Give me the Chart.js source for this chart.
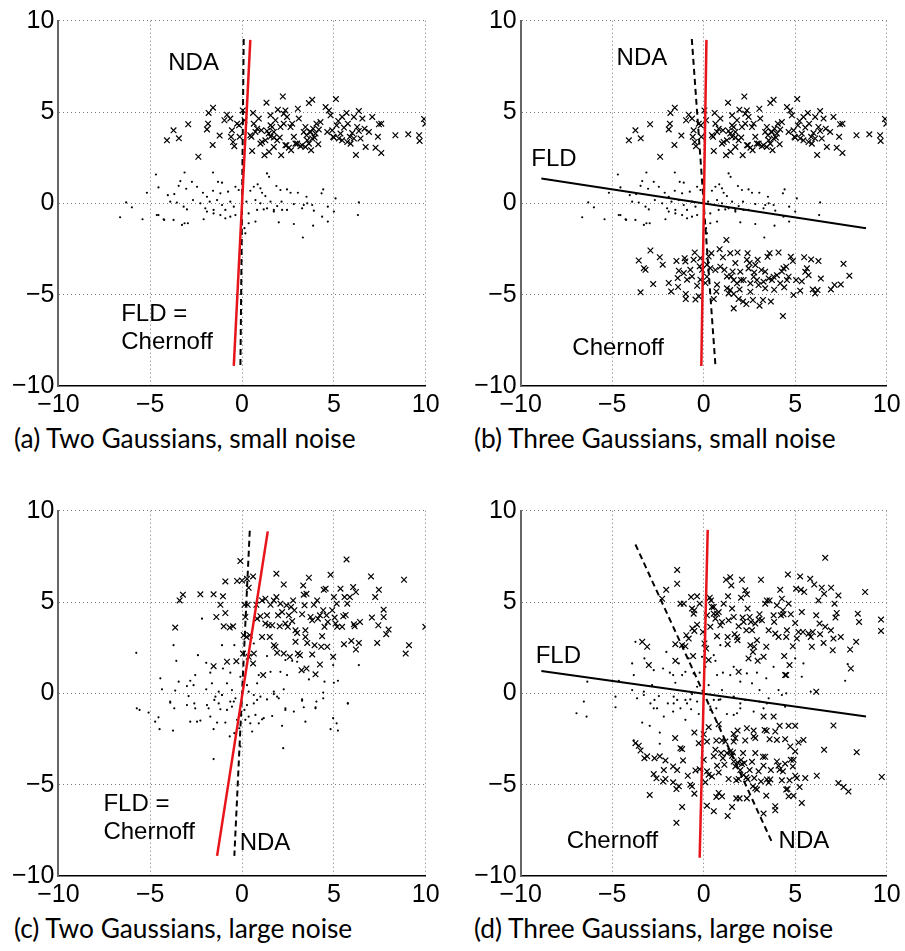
<!DOCTYPE html>
<html>
<head>
<meta charset="utf-8">
<script src="https://cdn.jsdelivr.net/npm/chart.js@4.4.1/dist/chart.umd.min.js"></script>
<style>
  body { margin: 0; background: #fff; }
  #wrap { position: relative; width: 905px; height: 951px; background: #fff; }
  #wrap canvas { position: absolute; }
  .cap { position: absolute; font-family: Lato, sans-serif; font-size: 26.3px; line-height: 30px; color: #000; white-space: nowrap; }
</style>
</head>
<body>
<div id="wrap">
  <canvas id="pa" width="455" height="420" style="left:0;top:0"></canvas>
  <canvas id="pb" width="445" height="420" style="left:460px;top:0"></canvas>
  <canvas id="pc" width="455" height="420" style="left:0;top:490px"></canvas>
  <canvas id="pd" width="445" height="420" style="left:460px;top:490px"></canvas>
  <div class="cap" style="left:14px;top:423px">(a) Two Gaussians, small noise</div>
  <div class="cap" style="left:474px;top:423px">(b) Three Gaussians, small noise</div>
  <div class="cap" style="left:14px;top:913px">(c) Two Gaussians, large noise</div>
  <div class="cap" style="left:474px;top:913px">(d) Three Gaussians, large noise</div>
</div>
<script>
// axis ticks
const tickValues = [-10, -5, 0, 5, 10];
const tickLabels = ['−10', '−5', '0', '5', '10'];

// small noise: upper cluster (x), middle cluster (dots) -- shared by (a) and (b)
const upperSmall = [
  [-4.09,3.45],[-3.73,4.0],[-3.44,3.56],[-2.93,4.33],[-2.38,2.55],[-1.91,4.05],[-1.85,4.36],[-1.82,4.95],[-1.58,5.24],[-1.6,3.2],
  [-1.22,3.71],[-0.96,4.55],[-0.82,4.85],[-0.64,4.64],[-0.55,4.0],[-0.6,3.64],[-0.49,3.36],[-0.42,3.13],[-0.27,4.36],[-0.16,4.27],
  [-0.13,3.64],[0.04,5.09],[0.13,4.55],[0.45,3.73],[0.51,3.64],[0.55,2.87],[0.6,4.95],[0.64,4.36],[0.91,4.64],[1.05,4.0],
  [1.09,3.36],[1.22,2.64],[1.33,5.51],[1.36,3.96],[1.45,3.82],[1.47,2.82],[1.55,4.82],[1.64,4.18],[1.73,3.6],[1.82,4.55],
  [1.95,5.13],[2.05,3.6],[2.13,2.64],[2.22,5.85],[2.27,4.91],[2.36,5.09],[2.42,3.18],[2.45,4.73],[2.55,3.05],[2.64,4.18],
  [2.67,2.91],[2.73,4.36],[2.82,3.64],[2.91,3.27],[3.04,5.18],[3.09,4.64],[3.27,3.18],[3.36,3.91],[3.45,4.18],[3.55,3.45],
  [3.64,5.49],[3.73,3.91],[3.76,2.91],[3.82,5.67],[3.87,4.09],[3.95,3.6],[4.05,4.36],[4.15,3.24],[4.27,4.45],[4.55,5.27],
  [4.64,3.91],[4.73,5.09],[4.82,4.82],[4.91,4.0],[4.96,3.64],[5.11,5.71],[5.15,4.27],[5.24,4.51],[5.36,3.82],[5.45,4.73],
  [5.55,4.15],[5.69,4.95],[5.76,4.36],[5.87,3.64],[6.0,3.85],[6.09,4.73],[6.2,2.65],[6.27,4.18],[6.36,5.05],[6.45,3.55],
  [6.55,4.64],[6.67,4.09],[6.73,3.09],[6.91,3.91],[7.09,4.73],[7.27,3.05],[7.4,3.64],[7.45,4.33],[7.58,2.76],[7.58,4.36],
  [8.35,3.73],[9.05,3.78],[9.64,3.73],[9.67,3.42],[9.91,4.62],[9.98,4.36],
  [1.73,3.09],[1.91,3.45],[2.36,3.18],[3.0,3.27],[3.18,3.13],[3.45,3.09],[3.64,3.27],[3.82,3.55],[4.0,3.82],[4.18,4.04],
  [3.69,3.91],[3.51,3.73],[1.55,3.64],[1.27,3.45],[1.0,3.27],[0.82,4.09],[0.73,3.91],[5.0,3.6],[5.27,3.55],[5.45,3.45],
  [5.73,3.36],[5.91,3.27],[6.09,3.55],[6.36,3.96],[2.09,4.18],[2.27,4.36],[1.73,3.91],[1.55,4.27]
];
const midSmall = [
  [-4.69,1.58],[-3.13,1.69],[-1.58,1.69],[1.36,1.64],[1.47,1.45],[-3.36,1.22],[-2.73,1.18],[-1.31,1.18],[-1.09,1.13],[-4.55,0.87],
  [-3.45,0.96],[-3.04,0.8],[-2.45,0.91],[-5.18,0.58],[-4.04,0.45],[-3.69,0.51],[-2.13,0.58],[-1.91,0.36],[-1.58,0.69],[-1.18,0.55],
  [-0.76,0.64],[-0.36,0.91],[-0.18,0.73],[0.45,0.69],[0.64,0.91],[0.85,1.04],[1.0,0.82],[1.09,0.58],[1.27,0.4],[1.87,0.95],
  [2.09,0.73],[2.45,0.76],[2.64,0.58],[3.04,0.58],[3.51,0.36],[4.42,0.76],[4.33,0.55],[5.09,0.27],[-6.31,0.05],[-6.0,-0.22],
  [-6.64,-0.76],[-5.42,-0.87],[-4.64,-0.64],[-4.27,-0.87],[-3.91,0.09],[-3.55,0.04],[-3.18,-0.18],[-3.0,-0.33],[-2.67,0.18],[-2.27,0.0],
  [-2.0,-0.27],[-1.76,0.09],[-1.55,-0.36],[-1.36,0.18],[-1.09,-0.09],[-0.91,-0.36],[-0.64,0.09],[-0.45,-0.18],[0.24,0.09],[0.36,-0.55],
  [0.73,0.18],[1.0,0.0],[1.18,-0.33],[1.55,0.09],[1.73,-0.36],[1.91,-0.15],[2.15,0.09],[2.45,-0.36],[2.82,-0.04],[3.27,-0.27],
  [3.55,0.0],[3.91,-0.4],[4.67,-0.18],[5.0,-0.45],[6.36,0.05],[6.31,-0.64],[-4.55,-0.64],[-4.24,-0.91],[-3.73,-0.91],[-3.27,-1.18],
  [-3.13,-1.09],[-2.95,-1.09],[-2.09,-0.87],[-1.18,-0.64],[-0.91,-0.82],[-0.64,-0.73],[-0.36,-0.64],[0.13,-1.36],[0.18,-1.64],[0.36,-1.09],
  [0.73,-1.0],[2.0,-1.04],[2.82,-1.13],[3.31,-1.87],[3.87,-1.22],[4.36,-0.73],[4.67,-1.0],[-1.91,-0.45],[-1.55,-0.55],[0.82,-0.36],
  [1.36,-0.27],[1.73,-0.45],[2.18,-0.36],[3.36,-0.09],[3.82,-0.09]
];
// (b) lower cluster (x)
const lowerSmall = [
  [-3.55,-3.13],[-3.27,-3.55],[-3.18,-3.64],[-3.45,-4.87],[-2.91,-2.58],[-2.76,-4.42],[-2.4,-2.95],[-2.24,-3.36],[-1.91,-4.36],[-1.78,-4.82],
  [-1.49,-3.15],[-1.42,-4.09],[-1.36,-3.69],[-1.4,-4.58],[-1.09,-3.82],[-1.04,-3.0],[-1.0,-3.18],[-0.98,-4.96],[-0.98,-5.24],[-0.91,-4.18],
  [-0.73,-3.64],[-0.64,-4.0],[-0.55,-3.09],[-0.49,-2.69],[-0.45,-5.27],[-0.36,-4.51],[-0.27,-5.09],[-0.22,-3.45],[-0.18,-4.18],[-0.09,-3.64],
  [0.09,-4.36],[0.18,-3.36],[0.27,-2.91],[0.36,-3.55],[0.42,-2.73],[0.55,-5.24],[0.69,-4.82],[0.73,-4.45],[0.87,-2.51],[1.05,-2.95],
  [1.13,-3.64],[1.24,-2.0],[1.27,-4.65],[1.36,-4.93],[1.45,-2.73],[1.49,-4.0],[1.58,-3.73],[1.64,-5.75],[1.73,-3.27],[1.85,-2.69],
  [1.91,-5.24],[1.96,-4.71],[2.04,-4.2],[2.15,-5.38],[2.33,-5.51],[2.36,-3.09],[2.4,-2.73],[2.51,-3.27],[2.55,-4.84],[2.69,-5.29],
  [2.76,-3.78],[2.95,-3.09],[3.0,-4.47],[3.05,-5.6],[3.15,-3.65],[3.24,-5.29],[3.36,-4.65],[3.49,-2.93],[3.6,-2.73],[3.67,-5.38],
  [3.73,-4.2],[3.85,-4.73],[4.0,-3.93],[4.09,-2.69],[4.18,-4.38],[4.27,-3.73],[4.33,-6.17],[4.4,-4.6],[4.51,-3.47],[4.64,-4.02],
  [4.76,-2.93],[4.87,-3.16],[4.91,-5.02],[5.05,-4.2],[5.27,-4.78],[5.36,-4.27],[5.49,-2.95],[5.55,-3.75],[5.64,-3.56],[5.73,-3.93],
  [5.87,-3.07],[5.96,-4.71],[6.09,-4.93],[6.22,-4.75],[6.27,-3.16],[6.4,-4.12],[6.95,-4.71],[7.15,-4.47],[7.49,-4.44],[7.64,-3.31],
  [7.96,-3.96],[0.91,-3.47],[1.27,-4.0],[1.64,-4.2],[1.82,-4.38],[2.18,-4.2],[2.45,-3.56],[2.73,-4.02],[2.91,-4.2],[3.27,-4.29],
  [3.55,-4.11],[3.82,-4.02],[2.55,-4.38],[1.45,-4.75],[1.64,-4.96],[2.0,-3.74],[2.82,-3.38],[3.36,-3.74],[4.36,-3.56],[4.55,-4.2],
  [0.18,-4.02],[0.64,-3.65],[-0.18,-3.0]
];

// (c) large noise, two gaussians
const upperLargeC = [
  [-0.09,7.24],[-3.22,5.4],[-3.4,5.09],[-3.64,3.6],[-2.27,5.42],[-1.55,5.42],[-1.04,5.31],[-1.18,4.85],[-1.4,4.18],[-0.91,4.4],
  [-1.0,3.67],[-0.67,3.6],[-0.49,3.67],[-0.91,6.13],[-0.27,6.15],[0.0,6.18],[0.27,6.27],[0.6,6.4],[0.36,5.78],[0.13,4.85],
  [0.31,4.85],[0.18,4.18],[0.09,3.18],[0.24,3.09],[0.42,3.18],[0.05,2.18],[0.36,2.0],[0.64,2.18],[0.6,1.64],[-1.55,1.49],
  [-0.82,1.73],[-0.31,1.76],[1.15,1.0],[0.78,4.85],[1.09,5.09],[1.27,5.18],[1.55,4.85],[1.73,5.09],[1.87,5.27],[2.09,4.91],
  [2.27,5.96],[1.87,6.55],[0.82,4.09],[1.0,4.22],[1.09,3.09],[1.27,3.82],[1.36,4.27],[1.45,3.73],[1.51,3.09],[1.64,3.73],
  [1.73,2.64],[1.82,2.55],[1.91,2.22],[1.96,4.27],[2.05,3.67],[2.18,4.45],[2.27,2.18],[2.36,3.82],[2.42,4.82],[2.49,3.64],
  [2.55,4.27],[2.6,2.0],[2.67,4.73],[2.73,3.95],[2.78,5.09],[2.85,4.55],[2.91,3.45],[2.91,2.82],[3.0,3.31],[3.04,2.18],
  [3.15,2.09],[3.24,1.27],[3.27,4.33],[3.33,5.91],[3.36,5.4],[3.4,4.82],[3.45,3.45],[3.45,3.09],[3.51,5.45],[3.51,1.36],
  [3.55,2.76],[3.64,6.33],[3.73,4.18],[3.82,4.0],[3.82,2.13],[3.91,4.85],[3.95,2.64],[4.0,1.04],[4.09,5.09],[4.13,4.09],
  [4.24,4.27],[4.24,1.58],[4.31,2.55],[4.36,3.13],[4.42,4.55],[4.45,5.67],[4.49,3.64],[4.55,5.73],[4.6,4.27],[4.64,2.55],
  [4.67,3.91],[4.82,6.49],[4.91,4.55],[4.96,2.0],[5.0,5.27],[5.04,4.15],[5.09,3.82],[5.15,4.91],[5.18,3.64],[5.36,5.73],
  [5.45,3.64],[5.51,4.22],[5.55,2.69],[5.58,5.27],[5.64,4.29],[5.73,4.91],[5.87,5.27],[5.95,2.87],[6.05,5.82],[6.09,3.78],
  [6.13,3.67],[6.2,2.4],[6.2,5.55],[6.36,2.76],[6.42,3.91],[7.02,6.4],[7.07,4.15],[7.25,5.27],[7.36,2.76],[7.42,3.73],
  [7.45,5.67],[7.71,4.58],[7.71,4.18],[7.85,3.24],[7.98,3.49],[8.82,6.22],[8.91,2.18],[9.09,2.64],[9.98,3.64],[5.69,7.33]
];
const midLargeC = [
  [-5.76,2.22],[-3.73,2.64],[-3.58,1.78],[-2.18,4.09],[-2.4,2.09],[-1.95,1.67],[-1.73,1.13],[-1.09,2.64],[-1.04,1.36],[-0.64,1.13],
  [-0.42,2.64],[0.64,2.73],[0.91,1.0],[1.36,2.04],[1.55,1.18],[2.09,1.18],[2.36,1.82],[2.45,1.0],[2.73,1.78],[3.0,1.73],
  [3.64,0.76],[4.49,0.64],[4.96,1.55],[5.0,0.58],[5.22,0.69],[6.36,1.55],[-4.45,0.82],[-4.36,0.22],[-3.64,0.15],[-3.45,0.64],
  [-3.0,0.4],[-2.82,0.69],[-2.64,0.45],[-2.55,1.0],[-1.95,0.22],[-1.64,0.55],[-1.45,-0.18],[-1.27,0.09],[-1.09,-0.09],[-0.82,0.55],
  [-0.55,0.18],[-0.45,-0.45],[-0.09,0.91],[0.27,0.45],[0.36,0.09],[0.64,-0.09],[0.82,0.55],[1.0,-0.18],[1.36,-0.33],[1.73,0.09],
  [2.0,-0.27],[2.27,0.22],[2.36,-0.82],[3.27,-0.4],[4.0,-0.82],[4.42,0.04],[5.76,-0.55],[-5.73,-0.82],[-3.91,-0.45],
  [-5.58,-0.91],[-5.09,-1.05],[-4.73,-1.55],[-4.55,-1.31],[-4.49,-1.96],[-3.91,-0.51],[-3.76,-2.04],[-3.69,-0.82],[-3.0,-0.64],[-2.91,-0.15],
  [-2.82,-1.55],[-2.6,-0.55],[-2.55,-0.82],[-2.45,-1.55],[-2.27,-1.49],[-1.91,-0.64],[-1.82,-0.82],[-1.73,-1.27],[-1.55,-1.96],[-1.55,-3.6],
  [-1.51,-0.36],[-1.36,-1.6],[-1.27,-0.55],[-1.18,-0.87],[-1.09,-0.09],[-0.91,-1.6],[-0.82,-0.91],[-0.67,-2.36],[-0.64,-0.45],[-0.55,-0.73],
  [-0.42,-2.18],[-0.36,-0.27],[-0.27,-1.45],[-0.15,-1.91],[-0.09,-2.91],[0.13,-0.91],[0.18,-1.45],[0.27,-0.64],[0.36,-1.27],[0.45,-1.64],
  [0.55,-2.09],[0.64,-0.55],[0.73,-1.18],[0.82,-0.36],[0.91,-1.64],[1.09,-1.42],[1.18,-1.36],[1.64,-1.24],[1.73,-0.04],[1.91,-0.18],
  [2.18,-1.78],[2.24,-3.0],[2.36,-0.91],[2.82,-1.0],[3.27,-0.33],[3.36,-0.76],[3.45,-1.55],[4.0,-0.76],[4.05,-0.45],[4.42,-0.27],
  [4.82,-1.96],[4.96,-1.36],[5.15,-1.64],[5.22,-2.04],[5.76,-0.55]
];

// (d) large noise, three gaussians
const upperLargeD = [
  [6.64,7.42],[-1.45,6.76],[-1.45,6.0],[-2.05,5.67],[-2.27,5.18],[-1.27,4.91],[-1.09,4.91],[-0.69,5.27],[-0.36,5.31],[-0.64,4.64],
  [-0.51,4.55],[-0.55,4.36],[-0.22,4.91],[-0.62,3.55],[-0.36,3.76],[-0.51,3.42],[-0.95,3.18],[-0.82,3.0],[-1.18,2.64],[-1.0,2.58],
  [-1.55,2.69],[-3.36,2.82],[-3.09,2.55],[-3.0,1.55],[-1.55,1.78],[-0.58,2.04],[-0.04,3.36],[0.04,2.73],[0.13,2.45],[0.27,1.82],
  [0.33,5.24],[0.4,5.09],[0.45,4.73],[0.55,4.73],[0.18,4.27],[0.55,4.36],[0.64,4.09],[0.36,3.64],[0.73,4.36],[0.82,4.45],
  [0.73,3.13],[0.91,3.73],[1.0,3.91],[1.09,4.91],[1.22,6.22],[1.33,5.31],[1.36,4.0],[1.31,3.09],[1.31,2.69],[1.45,6.36],
  [1.51,5.91],[1.55,4.64],[1.64,4.18],[1.69,3.24],[1.82,3.09],[1.85,2.91],[1.91,3.67],[2.04,5.24],[2.09,6.22],[2.13,4.15],
  [2.18,3.91],[2.27,5.64],[2.33,3.45],[2.36,5.42],[2.4,4.64],[2.45,1.91],[2.51,4.18],[2.55,2.64],[2.58,3.91],[2.64,3.45],
  [2.69,2.27],[2.76,2.55],[2.82,3.82],[2.91,2.91],[2.95,1.78],[3.0,4.04],[3.05,4.33],[3.13,6.22],[3.18,4.0],[3.27,2.0],
  [3.36,4.91],[3.42,2.55],[3.45,5.09],[3.55,3.45],[3.6,5.09],[3.82,4.27],[3.85,3.91],[3.91,3.27],[4.0,4.82],[4.09,3.09],
  [4.18,5.67],[4.22,4.27],[4.27,5.18],[4.33,4.55],[4.36,4.33],[4.4,2.04],[4.45,1.0],[4.51,3.09],[4.55,3.45],[4.6,6.51],
  [4.64,4.91],[4.69,1.55],[4.76,4.33],[4.87,2.58],[5.0,3.85],[5.05,5.73],[5.09,3.0],[5.18,3.36],[5.27,6.4],[5.31,5.67],
  [5.36,4.45],[5.42,3.36],[5.49,5.55],[5.73,3.27],[5.82,6.27],[5.85,3.09],[5.91,2.55],[5.96,3.36],[6.04,5.96],[6.15,4.27],
  [6.27,5.09],[6.33,3.82],[6.36,3.24],[6.45,5.78],[6.55,2.76],[6.58,5.45],[6.64,3.64],[6.95,3.45],[6.96,5.78],[7.05,2.36],
  [7.09,3.0],[7.15,4.91],[7.2,4.15],[7.27,4.4],[7.36,5.36],[7.49,3.09],[8.0,2.4],[8.04,1.36],[8.33,2.82],[8.42,4.36],
  [8.49,3.91],[8.82,5.55],[9.69,4.04],[9.69,3.42],[1.91,1.18],[4.51,1.0],[6.15,0.09]
];
const midLargeD = [
  [-3.73,2.82],[-3.24,1.91],[-3.91,1.64],[-3.82,1.0],[-6.36,0.64],[-4.64,0.69],[-3.91,0.18],[-3.27,0.09],[-2.82,0.45],[-2.73,1.27],
  [-2.45,-0.15],[-2.22,1.36],[-2.04,2.27],[-1.85,1.13],[-1.67,1.0],[-1.55,0.58],[-1.36,1.64],[-1.18,1.0],[-1.0,1.18],[-0.82,1.91],
  [-0.55,1.09],[-0.36,0.36],[-0.22,1.13],[-0.09,2.0],[0.09,1.45],[0.27,0.45],[0.55,2.09],[0.64,1.78],[0.73,1.0],[0.91,2.64],
  [1.0,0.18],[1.05,1.13],[1.45,1.0],[1.64,1.45],[2.0,0.64],[2.36,1.09],[2.64,0.55],[2.91,1.13],[3.05,0.18],[3.42,0.82],
  [3.82,1.45],[4.09,0.18],[4.51,0.0],[5.0,1.91],[5.36,0.91],[5.45,1.64],[5.85,0.09],[7.73,0.69],[7.87,1.6],[-4.82,-0.18],
  [-6.55,-0.45],[-3.64,-0.27],[-2.91,-0.55],[-2.55,-0.82],[-1.64,-0.55],[-1.0,-0.36],[-0.64,-0.04],[-0.36,-0.45],[0.36,-0.73],[0.82,-0.36],
  [1.64,-0.18],[2.0,-0.82],[3.27,-0.82],[-6.95,-1.09],[-6.4,-1.27],[-4.82,-0.76],[-3.36,-1.6],[-2.95,-1.78],[-3.82,-2.58],[-2.73,-0.82],
  [-2.69,-0.36],[-2.4,-2.15],[-2.4,-2.76],[-2.18,-1.27],[-1.96,-0.55],[-1.67,-1.0],[-1.64,-0.18],[-1.45,-0.36],[-1.27,-0.82],[-1.0,-1.45],
  [-0.91,-0.55],[-0.73,-0.33],[-0.69,-0.87],[-0.27,-1.13],[0.36,-0.91],[0.55,-0.36],[0.69,-0.82],[1.27,-1.13],[1.64,-1.18],[1.82,-1.09],
  [2.0,-0.55],[2.27,-0.36],[2.73,-1.0],[3.05,-0.45],[3.45,-0.55],[4.27,-0.09],[4.45,-0.73],[3.55,-0.27],[-3.27,-0.09],[0.91,-0.33]
];
const lowerLargeD = [
  [7.09,-1.76],[3.27,-1.27],[3.82,-1.27],[4.64,-1.78],[5.0,-1.78],[4.15,-1.78],[2.36,-1.91],[2.73,-2.04],[-0.51,-2.15],[0.0,-2.24],
  [0.27,-1.85],[0.82,-1.69],[1.64,-2.22],[1.85,-2.04],[3.33,-2.0],[3.44,-2.05],[3.91,-2.09],[-1.56,-2.45],[-0.27,-2.73],[0.18,-2.64],
  [0.69,-2.58],[1.0,-2.58],[1.18,-2.64],[1.64,-2.64],[1.73,-2.45],[2.27,-2.58],[2.73,-2.36],[2.82,-2.45],[3.6,-2.51],[4.0,-2.55],
  [4.45,-2.51],[4.73,-2.91],[5.0,-3.18],[5.18,-2.69],[5.45,-2.55],[6.58,-3.09],[8.36,-3.22],[-3.73,-2.73],[-3.55,-2.87],[-3.45,-3.13],
  [-3.24,-3.55],[-3.09,-3.45],[-2.69,-3.55],[-2.4,-3.45],[-2.09,-3.67],[-2.18,-4.2],[-1.67,-4.0],[-1.45,-4.2],[-1.27,-3.0],[-1.13,-3.67],
  [-1.18,-3.05],[-0.45,-4.22],[-0.22,-4.15],[0.0,-3.64],[0.18,-4.27],[0.27,-4.45],[0.45,-4.55],[0.55,-3.45],[0.64,-3.09],[0.73,-3.96],
  [0.82,-4.33],[0.95,-3.27],[1.05,-3.55],[1.13,-3.91],[1.27,-3.27],[1.36,-4.69],[1.45,-3.18],[1.55,-3.42],[1.6,-3.24],[1.64,-3.73],
  [1.73,-4.0],[1.78,-4.76],[1.85,-3.78],[1.91,-4.69],[2.0,-4.2],[2.04,-3.65],[2.09,-3.87],[2.15,-3.27],[2.18,-4.47],[2.22,-3.82],
  [2.33,-4.6],[2.4,-4.71],[2.51,-4.2],[2.64,-3.75],[2.69,-5.09],[2.76,-4.64],[2.82,-3.27],[2.91,-5.27],[3.0,-4.27],[3.13,-4.82],
  [3.24,-3.47],[3.27,-3.96],[3.36,-3.47],[3.45,-4.71],[3.55,-4.89],[3.64,-4.71],[3.67,-4.2],[4.0,-3.73],[4.09,-3.96],[4.15,-4.18],
  [4.27,-4.76],[4.33,-4.27],[4.45,-3.85],[4.51,-5.27],[4.58,-5.24],[4.64,-5.64],[4.69,-4.76],[4.76,-3.64],[4.87,-4.0],[4.91,-3.64],
  [5.0,-4.51],[5.09,-4.64],[5.24,-5.13],[5.36,-6.0],[5.55,-4.64],[6.18,-4.51],[7.36,-4.91],[7.64,-5.13],[7.91,-5.38],[9.73,-4.58],
  [-2.95,-5.56],[-2.73,-4.42],[-2.58,-4.65],[-2.22,-4.82],[-2.09,-4.69],[-1.67,-4.87],[-1.49,-5.24],[-1.36,-5.09],[-1.18,-6.22],[-1.49,-7.09],
  [-0.87,-4.51],[-0.73,-5.0],[-0.64,-5.09],[-0.51,-5.49],[0.09,-4.87],[0.18,-6.15],[0.55,-6.45],[0.69,-5.67],[0.82,-5.45],[1.0,-5.64],
  [1.31,-6.71],[1.55,-6.22],[1.78,-5.75],[1.96,-5.75],[2.36,-5.75],[2.82,-5.2],[3.27,-6.58],[3.42,-5.6],[3.91,-6.18],[3.91,-6.4],
  [4.91,-5.6]
];

// projection directions (end points)
const ndaA = [[0.09, 9], [-0.09, -9]];
const fldA = [[0.45, 8.95], [-0.45, -8.9]];
const ndaB = [[-0.65, 9], [0.65, -9]];
const chernoffB = [[0.15, 8.95], [-0.13, -8.9]];
const fldB = [[-8.87, 1.36], [8.87, -1.36]];
const ndaC = [[0.42, 8.9], [-0.42, -8.9]];
const fldC = [[1.4, 8.87], [-1.36, -8.9]];
const ndaD = [[-3.73, 8.15], [3.73, -8.15]];
const chernoffD = [[0.22, 8.95], [-0.22, -9.0]];
const fldD = [[-8.87, 1.22], [8.87, -1.27]];

// text labels inside the plots [text, x, y]
const labelsA = [['NDA', -4.02, 7.68], ['FLD =', -6.58, -6.06], ['Chernoff', -6.58, -7.6]];
const labelsB = [['NDA', -4.76, 7.96], ['FLD', -9.42, 2.4], ['Chernoff', -7.18, -7.96]];
const labelsC = [['FLD =', -7.55, -6.09], ['Chernoff', -7.55, -7.6], ['NDA', -0.13, -8.22]];
const labelsD = [['FLD', -9.18, 2.04], ['Chernoff', -7.49, -8.09], ['NDA', 4.09, -8.09]];

const toXY = p => ({ x: p[0], y: p[1] });

function crosses(pts) {
    return { data: pts.map(toXY), pointStyle: 'crossRot', pointRadius: 4, borderColor: '#000',
             borderWidth: 1.2, showLine: false, order: 3 };
}
function dots(pts) {
    return { data: pts.map(toXY), pointStyle: 'circle', pointRadius: 1.1, backgroundColor: '#000',
             borderColor: '#000', borderWidth: 0, showLine: false, order: 3 };
}
function seg(pts, color, dash, width, order) {
    return { data: pts.map(toXY), showLine: true, borderColor: color, borderWidth: width,
             borderDash: dash, pointRadius: 0, order: order, fill: false };
}

// draws the NDA / FLD / Chernoff captions inside each plot
const textPlugin = {
    id: 'panelText',
    afterDatasetsDraw(chart, args, opts) {
        const { ctx, scales: { x, y } } = chart;
        ctx.save();
        ctx.font = '24px "Liberation Sans", Arial, sans-serif';
        ctx.fillStyle = '#000';
        ctx.textBaseline = 'middle';
        ctx.textAlign = 'left';
        (opts.items || []).forEach(t => {
            ctx.fillText(t[0], x.getPixelForValue(t[1]), y.getPixelForValue(t[2]));
        });
        ctx.restore();
    }
};

const tickFont = { family: '"Liberation Sans", Arial, sans-serif', size: 25 };

function makePanel(id, datasets, labels, yWidth, padRight) {
    const gridColor = c => (c.tick && c.tick.value === -10) ? 'rgba(0,0,0,0)' : '#777';
    new Chart(document.getElementById(id), {
        type: 'scatter',
        data: { datasets: datasets },
        options: {
            responsive: false,
            animation: false,
            events: [],
            layout: { padding: { left: 0, top: 20.7, right: padRight, bottom: 0 } },
            plugins: {
                legend: { display: false },
                tooltip: { enabled: false },
                panelText: { items: labels }
            },
            scales: {
                x: {
                    type: 'linear', min: -10, max: 10,
                    afterBuildTicks: s => { s.ticks = tickValues.map(v => ({ value: v })); },
                    afterFit: s => { s.height = 34; },
                    ticks: {
                        callback: v => tickLabels[tickValues.indexOf(v)],
                        font: tickFont, color: '#000', padding: 4, maxRotation: 0, autoSkip: false
                    },
                    grid: { color: gridColor, lineWidth: 1, drawTicks: false },
                    border: { color: '#000', width: 1.5, dash: [1, 3] }
                },
                y: {
                    type: 'linear', min: -10, max: 10,
                    afterBuildTicks: s => { s.ticks = tickValues.map(v => ({ value: v })); },
                    afterFit: s => { s.width = yWidth; },
                    ticks: {
                        callback: v => tickLabels[tickValues.indexOf(v)],
                        font: tickFont, color: '#000', padding: 4, autoSkip: false
                    },
                    grid: { color: gridColor, lineWidth: 1, drawTicks: false },
                    border: { color: '#666', width: 2, dash: [1, 3] }
                }
            }
        },
        plugins: [textPlugin]
    });
}

makePanel('pa', [
    seg(fldA, '#e8141a', [], 2.5, 0),
    seg(ndaA, '#000', [6, 4], 2, 1),
    crosses(upperSmall),
    dots(midSmall)
], labelsA, 58.4, 29.3);

makePanel('pb', [
    seg(chernoffB, '#e8141a', [], 2.5, 0),
    seg(ndaB, '#000', [6, 4], 2, 1),
    seg(fldB, '#000', [], 2, 1),
    crosses(upperSmall),
    dots(midSmall),
    crosses(lowerSmall)
], labelsB, 60.7, 18.3);

makePanel('pc', [
    seg(fldC, '#e8141a', [], 2.5, 0),
    seg(ndaC, '#000', [6, 4], 2, 1),
    crosses(upperLargeC),
    dots(midLargeC)
], labelsC, 58.4, 29.3);

makePanel('pd', [
    seg(chernoffD, '#e8141a', [], 2.5, 0),
    seg(ndaD, '#000', [6, 4], 2, 1),
    seg(fldD, '#000', [], 2, 1),
    crosses(upperLargeD),
    dots(midLargeD),
    crosses(lowerLargeD)
], labelsD, 60.7, 18.3);
</script>
</body>
</html>
